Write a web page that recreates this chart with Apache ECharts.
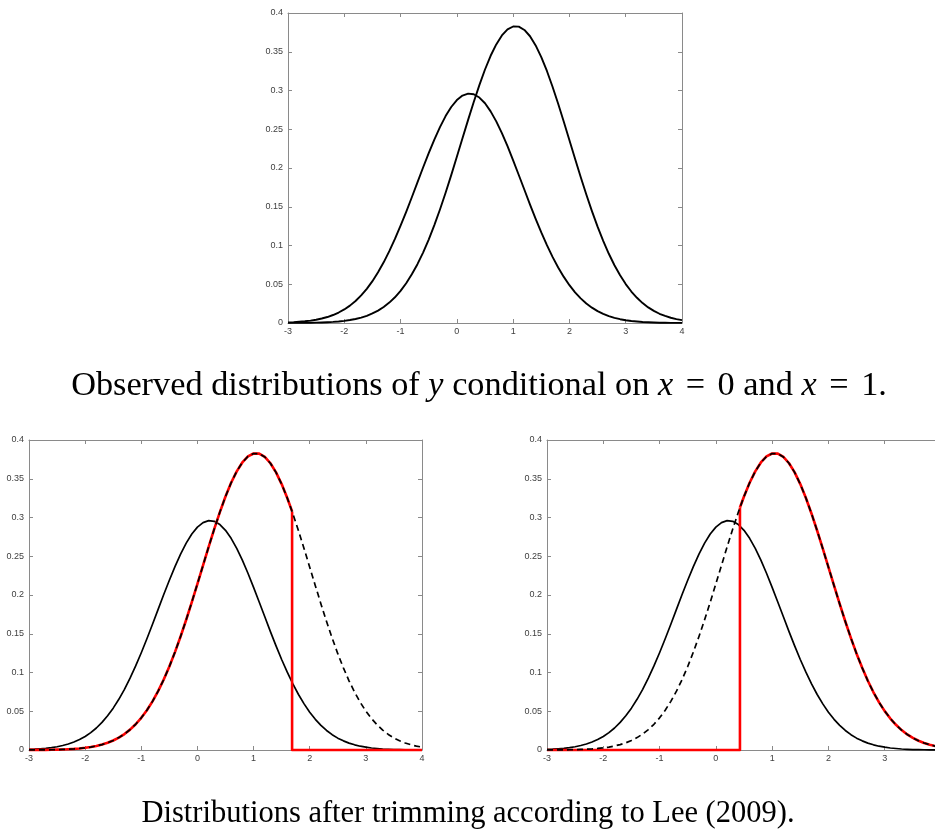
<!DOCTYPE html>
<html>
<head>
<meta charset="utf-8">
<script src="https://cdn.jsdelivr.net/npm/echarts@6/dist/echarts.min.js"></script>
<style>
  html, body { margin: 0; padding: 0; background: #fff; }
  #chart { width: 935px; height: 835px; }
</style>
</head>
<body>
<div id="chart"></div>
<script>
// y from -3 to 4, step 0.1
var xs = [-3.0, -2.9, -2.8, -2.7, -2.6, -2.5, -2.4, -2.3, -2.2, -2.1,
          -2.0, -1.9, -1.8, -1.7, -1.6, -1.5, -1.4, -1.3, -1.2, -1.1,
          -1.0, -0.9, -0.8, -0.7, -0.6, -0.5, -0.4, -0.3, -0.2, -0.1,
          0.0, 0.1, 0.2, 0.3, 0.4, 0.5, 0.6, 0.7, 0.8, 0.9,
          1.0, 1.1, 1.2, 1.3, 1.4, 1.5, 1.6, 1.7, 1.8, 1.9,
          2.0, 2.1, 2.2, 2.3, 2.4, 2.5, 2.6, 2.7, 2.8, 2.9,
          3.0, 3.1, 3.2, 3.3, 3.4, 3.5, 3.6, 3.7, 3.8, 3.9, 4.0];
// density of y given x = 0
var densX0 = [0.0008, 0.0011, 0.0016, 0.0022, 0.0031, 0.0042, 0.0058, 0.0077, 0.0103, 0.0135,
              0.0175, 0.0224, 0.0284, 0.0356, 0.0441, 0.0540, 0.0654, 0.0783, 0.0927, 0.1085,
              0.1255, 0.1435, 0.1623, 0.1815, 0.2006, 0.2191, 0.2367, 0.2528, 0.2670, 0.2787,
              0.2876, 0.2934, 0.2959, 0.2951, 0.2909, 0.2835, 0.2731, 0.2602, 0.2450, 0.2281,
              0.2099, 0.1910, 0.1719, 0.1528, 0.1344, 0.1168, 0.1004, 0.0853, 0.0716, 0.0595,
              0.0488, 0.0396, 0.0318, 0.0252, 0.0198, 0.0153, 0.0118, 0.0089, 0.0067, 0.0049,
              0.0036, 0.0026, 0.0019, 0.0013, 0.0009, 0.0006, 0.0004, 0.0003, 0.0002, 0.0001, 0.0001];
// density of y given x = 1
var densX1 = [0.0001, 0.0001, 0.0002, 0.0002, 0.0003, 0.0005, 0.0007, 0.0010, 0.0014, 0.0020,
              0.0028, 0.0038, 0.0052, 0.0070, 0.0093, 0.0123, 0.0160, 0.0206, 0.0263, 0.0332,
              0.0415, 0.0513, 0.0628, 0.0759, 0.0909, 0.1077, 0.1263, 0.1465, 0.1681, 0.1908,
              0.2144, 0.2383, 0.2621, 0.2852, 0.3070, 0.3271, 0.3448, 0.3595, 0.3710, 0.3788,
              0.3826, 0.3824, 0.3781, 0.3700, 0.3582, 0.3431, 0.3252, 0.3049, 0.2829, 0.2597,
              0.2359, 0.2120, 0.1885, 0.1658, 0.1444, 0.1243, 0.1060, 0.0893, 0.0745, 0.0615,
              0.0502, 0.0406, 0.0325, 0.0257, 0.0201, 0.0156, 0.0119, 0.0091, 0.0068, 0.0050, 0.0037];
// trimming points (Lee 2009): upper trim (left panel) and lower trim (right panel)
var cutLow = 1.686, densCutLow = 0.3079;
var cutHigh = 0.428, densCutHigh = 0.3129;

var xMin = -3, xMax = 4;

function zip(a, b) {
  var out = [];
  for (var i = 0; i < a.length; i++) out.push([a[i], b[i]]);
  return out;
}

var curveX0 = zip(xs, densX0);
var curveX1 = zip(xs, densX1);

var lowKeep = curveX1.filter(function (p) { return p[0] < cutLow; });
lowKeep.push([cutLow, densCutLow]);
var lowDrop = [[cutLow, densCutLow], [cutLow, 0], [xMax, 0]];

var highKeep = [[cutHigh, densCutHigh]].concat(curveX1.filter(function (p) { return p[0] > cutHigh; }));
var highRise = [[xMin, 0], [cutHigh, 0], [cutHigh, densCutHigh]];

// third panel runs past the right edge of the page, as in the source
var grids = [
  { left: 288, top: 13, width: 394, height: 310, outerBoundsMode: 'none' },
  { left: 29, top: 440, width: 393, height: 310, outerBoundsMode: 'none' },
  { left: 547, top: 440, width: 394, height: 310, outerBoundsMode: 'none' }
];

var axisGray = '#8a8a8a';
var labelFont = { color: '#404040', fontSize: 9, fontFamily: 'Liberation Sans' };

var xAxes = [], yAxes = [];
grids.forEach(function (g, i) {
  ['bottom', 'top'].forEach(function (pos) {
    xAxes.push({
      type: 'value', gridIndex: i, position: pos, min: xMin, max: xMax, interval: 1,
      axisLine: { onZero: false, lineStyle: { color: axisGray, width: 1 } },
      axisTick: { inside: true, length: 4, lineStyle: { color: axisGray } },
      axisLabel: Object.assign({ show: pos === 'bottom', margin: 4 }, labelFont),
      splitLine: { show: false }
    });
  });
  ['left', 'right'].forEach(function (pos) {
    yAxes.push({
      type: 'value', gridIndex: i, position: pos, min: 0, max: 0.4, interval: 0.05,
      axisLine: { show: true, onZero: false, lineStyle: { color: axisGray, width: 1 } },
      axisTick: { show: true, inside: true, length: 4, lineStyle: { color: axisGray } },
      axisLabel: Object.assign({ show: pos === 'left', margin: 5 }, labelFont),
      splitLine: { show: false }
    });
  });
});

function line(data, gi, color, width, dash, z) {
  return {
    type: 'line', data: data, xAxisIndex: gi * 2, yAxisIndex: gi * 2,
    showSymbol: false, symbol: 'none', smooth: false,
    clip: false, silent: true, animation: false, z: z,
    lineStyle: { color: color, width: width, type: dash || 'solid', cap: 'butt', join: 'round' }
  };
}

var series = [
  // top: observed
  line(curveX0, 0, '#000', 1.9, null, 2),
  line(curveX1, 0, '#000', 1.9, null, 2),
  // bottom-left: upper trimming
  line(curveX0, 1, '#000', 1.7, null, 2),
  line(lowKeep, 1, '#ff0000', 2.6, null, 3),
  line(lowDrop, 1, '#ff0000', 2.6, null, 3),
  line(curveX1, 1, '#000', 1.7, [6, 4], 4),
  // bottom-right: lower trimming
  line(curveX0, 2, '#000', 1.7, null, 2),
  line(highKeep, 2, '#ff0000', 2.6, null, 3),
  line(highRise, 2, '#ff0000', 2.6, null, 3),
  line(curveX1, 2, '#000', 1.7, [6, 4], 4)
];

var captionFont = 'Liberation Serif';
function caption(text, x, y, size) {
  return {
    type: 'text', x: x, y: y, silent: true,
    style: {
      text: text, fill: '#000', fontSize: size, fontFamily: captionFont,
      textAlign: 'center', textVerticalAlign: 'middle',
      rich: {
        i: { fontStyle: 'italic', fontSize: size, fontFamily: captionFont },
        eq: { fontSize: size, fontFamily: captionFont, padding: [0, 4, 0, 4] }
      }
    }
  };
}

var chart = echarts.init(document.getElementById('chart'), null, { renderer: 'canvas' });
chart.setOption({
  backgroundColor: '#fff',
  animation: false,
  grid: grids,
  xAxis: xAxes,
  yAxis: yAxes,
  series: series,
  graphic: [
    caption('Observed distributions of {i|y} conditional on {i|x}{eq| = }0 and {i|x}{eq| = }1.', 479, 386, 34.3),
    caption('Distributions after trimming according to Lee (2009).', 468, 814, 30.5)
  ]
});
</script>
</body>
</html>
